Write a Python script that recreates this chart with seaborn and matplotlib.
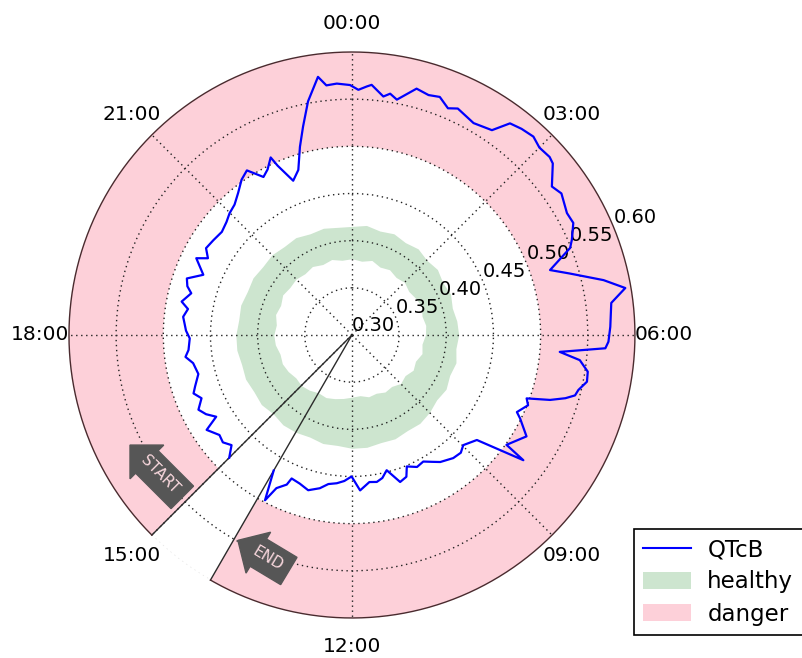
import numpy as np
import pandas as pd
import matplotlib
matplotlib.use("Agg")
import matplotlib.pyplot as plt
import seaborn as sns
from matplotlib.patches import Patch
from matplotlib.lines import Line2D

# ---- recording window (hours since midnight of day 1) ----
record_start = 15.0
record_end = 38.0

# ---- QTcB trace (hours, seconds) ----
qtc_hours = [15.00, 15.17, 15.35, 15.53, 15.79, 15.93, 16.10, 16.27, 16.48, 16.65,
             16.79, 17.05, 17.33, 17.50, 17.65, 17.92, 18.10, 18.27, 18.41, 18.60,
             18.74, 18.97, 19.10, 19.26, 19.47, 19.75, 19.87, 20.05, 20.29, 20.56,
             20.80, 20.99, 21.20, 21.42, 21.64, 21.83, 22.05, 22.20, 22.36, 22.42,
             22.61, 22.80, 22.97, 23.12, 23.29, 23.50, 23.61, 23.77, 23.97, 24.10,
             24.23, 24.30, 24.50, 24.60, 24.72, 24.98, 25.18, 25.35, 25.53, 25.67,
             25.99, 26.29, 26.45, 26.63, 26.83, 27.00, 27.20, 27.30, 27.56, 27.73,
             28.03, 28.21, 28.44, 28.55, 28.79, 28.95, 29.18, 29.35, 29.53, 29.88,
             30.10, 30.20, 30.31, 30.42, 30.59, 30.75, 30.91, 31.01, 31.10, 31.21,
             31.33, 31.45, 31.67, 31.76, 32.01, 32.36, 32.41, 32.67, 32.98, 33.15,
             33.37, 33.68, 33.85, 34.04, 34.25, 34.49, 34.60, 34.79, 35.04, 35.20,
             35.36, 35.55, 35.80, 36.01, 36.20, 36.39, 36.60, 36.79, 37.05, 37.29,
             37.52, 37.57, 37.75, 37.85, 38.00]
qtc_values = [0.484, 0.473, 0.478, 0.476, 0.484, 0.468, 0.476, 0.481, 0.473, 0.479,
              0.475, 0.468, 0.471, 0.478, 0.474, 0.472, 0.476, 0.478, 0.480, 0.476,
              0.484, 0.476, 0.482, 0.485, 0.470, 0.484, 0.473, 0.480, 0.478, 0.476,
              0.479, 0.483, 0.486, 0.493, 0.502, 0.507, 0.492, 0.497, 0.507, 0.496,
              0.475, 0.484, 0.507, 0.527, 0.552, 0.576, 0.566, 0.567, 0.565, 0.560,
              0.564, 0.566, 0.555, 0.559, 0.554, 0.570, 0.567, 0.569, 0.561, 0.565,
              0.559, 0.563, 0.580, 0.583, 0.585, 0.581, 0.582, 0.580, 0.564, 0.568,
              0.562, 0.563, 0.554, 0.549, 0.521, 0.540, 0.573, 0.594, 0.577, 0.574,
              0.572, 0.569, 0.521, 0.543, 0.553, 0.554, 0.547, 0.545, 0.536, 0.521,
              0.497, 0.501, 0.493, 0.499, 0.514, 0.501, 0.525, 0.473, 0.466, 0.470,
              0.469, 0.464, 0.459, 0.454, 0.456, 0.451, 0.461, 0.464, 0.448, 0.455,
              0.458, 0.457, 0.465, 0.450, 0.455, 0.458, 0.460, 0.466, 0.471, 0.467,
              0.465, 0.473, 0.481, 0.498, 0.466]

# ---- healthy range over the day (every 30 min) ----
band_hours = [h * 0.5 for h in range(48)]
healthy_lo = [0.382, 0.380, 0.383, 0.379, 0.381, 0.378, 0.380, 0.377, 0.379, 0.381,
              0.378, 0.380, 0.379, 0.376, 0.378, 0.374, 0.376, 0.372, 0.374, 0.370,
              0.371, 0.368, 0.369, 0.366, 0.367, 0.369, 0.371, 0.373, 0.372, 0.375,
              0.377, 0.376, 0.379, 0.381, 0.380, 0.383, 0.384, 0.382, 0.385, 0.383,
              0.386, 0.384, 0.385, 0.383, 0.385, 0.382, 0.384, 0.381]
healthy_hi = [0.414, 0.416, 0.413, 0.415, 0.412, 0.414, 0.411, 0.413, 0.410, 0.412,
              0.409, 0.411, 0.412, 0.410, 0.413, 0.411, 0.414, 0.412, 0.415, 0.417,
              0.416, 0.418, 0.417, 0.419, 0.419, 0.417, 0.418, 0.416, 0.418, 0.419,
              0.417, 0.420, 0.419, 0.421, 0.420, 0.422, 0.422, 0.420, 0.421, 0.419,
              0.420, 0.418, 0.419, 0.417, 0.418, 0.415, 0.416, 0.414]

# ---- danger zone and axis ticks ----
danger_lo, danger_hi = 0.50, 0.60
r_ticks = [0.30, 0.35, 0.40, 0.45, 0.50, 0.55, 0.60]
clock_hours = [0, 3, 6, 9, 12, 15, 18, 21]
clock_labels = ["00:00", "03:00", "06:00", "09:00", "12:00", "15:00", "18:00", "21:00"]

healthy_color = "#cde5cf"
danger_color = "#fdd0d9"
line_color = "#0000ff"


def hours_to_rad(h):
    return np.deg2rad(np.asarray(h, dtype=float) * 15.0)


plt.rcParams["font.family"] = ["DejaVu Sans"]

fig = plt.figure(figsize=(8.02, 6.58), dpi=100)
ax = fig.add_axes([0.0860, 0.0608, 0.7057, 0.8602], projection="polar")
ax.set_theta_zero_location("N")
ax.set_theta_direction(-1)

# danger ring over the recording window
span = record_end - record_start
ax.bar(hours_to_rad(record_start + span / 2), danger_hi - danger_lo,
       width=np.deg2rad(span * 15.0), bottom=danger_lo,
       color=danger_color, edgecolor="none", zorder=1)
arc = np.linspace(hours_to_rad(record_start), hours_to_rad(record_end), 400)
ax.plot(arc, np.full_like(arc, danger_hi), color="#4a2a2e", lw=1.0,
        clip_on=False, zorder=2.5)

# healthy band around the full day
bt = hours_to_rad(band_hours + [24.0])
ax.fill_between(bt, healthy_lo + healthy_lo[:1], healthy_hi + healthy_hi[:1],
                color=healthy_color, edgecolor=healthy_color, lw=1.5, zorder=1)

# start / end markers from the centre
for h in (record_start, record_end):
    ax.plot([hours_to_rad(h)] * 2, [r_ticks[0], danger_hi], color="#2b2b2b",
            lw=1.0, zorder=2.2, clip_on=False)

# QTcB trace
df = pd.DataFrame({"theta": hours_to_rad(qtc_hours), "QTcB": qtc_values})
sns.lineplot(data=df, x="theta", y="QTcB", ax=ax, sort=False, estimator=None,
             color=line_color, lw=1.6, legend=False, zorder=3)
ax.set_xlabel("")
ax.set_ylabel("")

ax.set_ylim(r_ticks[0], r_ticks[-1])
ax.set_yticks(r_ticks)
ax.set_yticklabels([f"{v:.2f}" for v in r_ticks], fontsize=14)
ax.set_rlabel_position(67.5)
ax.set_xticks(hours_to_rad(clock_hours))
ax.set_xticklabels(clock_labels, fontsize=14.5)
ax.tick_params(axis="x", pad=10)
ax.spines["polar"].set_visible(False)
ax.grid(True, color="#222222", linestyle=(0, (1, 2.6)), linewidth=1.0)
for tick in ax.yaxis.get_major_ticks():
    if tick.get_loc() >= r_ticks[-1] - 1e-9:
        tick.gridline.set_color("#e4e4e4")

# START / END arrows
arrow_box = dict(boxstyle="larrow,pad=0.55", fc="#565656", ec="#565656", lw=1)
ax.text(hours_to_rad(record_start + 0.60), 0.552, "START", rotation=-45,
        rotation_mode="anchor", ha="center", va="center", fontsize=11,
        color="#f7d6dc", bbox=arrow_box, zorder=4)
ax.text(hours_to_rad(record_end - 0.62), 0.553, "END", rotation=-31,
        rotation_mode="anchor", ha="center", va="center", fontsize=11,
        color="#f7d6dc", bbox=arrow_box, zorder=4)

handles = [Line2D([], [], color=line_color, lw=1.5, label="QTcB"),
           Patch(fc=healthy_color, ec="none", label="healthy"),
           Patch(fc=danger_color, ec="none", label="danger")]
leg = fig.legend(handles=handles, loc="upper left",
                 bbox_to_anchor=(634 / 802, 1 - 529 / 658),
                 bbox_transform=fig.transFigure, fontsize=16.5, frameon=True,
                 fancybox=False, edgecolor="black", framealpha=1,
                 handlelength=2.1, handleheight=0.8, borderpad=0.4,
                 labelspacing=0.4, handletextpad=0.7, borderaxespad=0)
leg.get_frame().set_linewidth(1.2)

fig.savefig("out.png", dpi=100)
